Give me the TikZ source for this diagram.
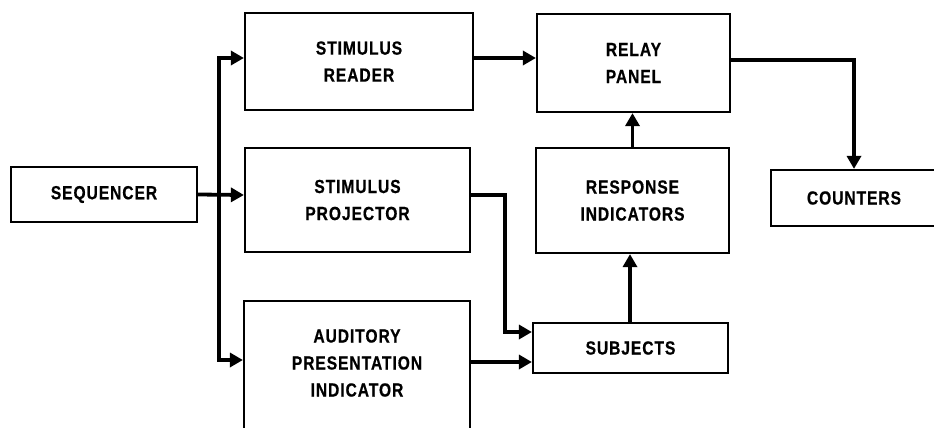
\documentclass[tikz,border=0pt]{standalone}
\usepackage{fontspec}
\setmainfont{Liberation Sans}[FakeStretch=0.82, LetterSpace=5, FakeBold=0.6]
\usetikzlibrary{arrows.meta}
\begin{document}
\begin{tikzpicture}[x=1pt,y=-1pt,
  blockbox/.style={draw, line width=2.2pt, inner sep=0pt, align=center,
    font=\fontsize{19}{27}\selectfont\bfseries},
  flow/.style={line width=3.8pt, -{Triangle[length=13pt,width=14pt]}},
  wire/.style={line width=3.8pt}]
\useasboundingbox (0,0) rectangle (934,428);
\clip (0,0) rectangle (934,428);

% blocks
\node[blockbox, minimum width=186pt, minimum height=55pt] (seq) at (104,194.5) {SEQUENCER};
\node[blockbox, minimum width=228pt, minimum height=97pt] (reader) at (359,61.5) {STIMULUS\\READER};
\node[blockbox, minimum width=225pt, minimum height=104pt] (proj) at (357.5,200) {STIMULUS\\PROJECTOR};
\node[blockbox, draw=none, minimum width=226pt, minimum height=124pt] (aud) at (357,363) {AUDITORY\\PRESENTATION\\INDICATOR};
\draw[line width=2.2pt] (244,432) -- (244,301) -- (470,301) -- (470,432);
\node[blockbox, minimum width=193pt, minimum height=98pt] (relay) at (633.5,63) {RELAY\\PANEL};
\node[blockbox, minimum width=193pt, minimum height=105pt] (resp) at (632.5,200.5) {RESPONSE\\INDICATORS};
\node[blockbox, minimum width=195pt, minimum height=50pt] (subj) at (630.5,348) {SUBJECTS};
\node[blockbox, minimum width=166pt, minimum height=56pt] (count) at (854,198) {COUNTERS};

% sequencer fan-out
\coordinate (j) at (219,195);
\draw[flow] (seq.east) -- (proj.west |- j);
\draw[wire] (j) -- (219,58);
\draw[wire] (j) -- (219,360);
\draw[flow] (217.1,58) -- ([yshift=3.5pt]reader.west);
\draw[flow] (217.1,360) -- ([yshift=3pt]aud.west);

% into subjects
\coordinate (k) at (505,195);
\draw[wire] ([yshift=5pt]proj.east) -- (k) -- (505,332);
\draw[flow] (503.1,332) -- ([yshift=16pt]subj.west);
\draw[flow] ([yshift=1pt]aud.east) -- ([yshift=-14pt]subj.west);

% responses up to the relay panel
\coordinate (s) at (630,323);
\draw[flow] (s) -- (s |- resp.south);
\coordinate (r) at (632.5,148);
\draw[flow] (r) -- (r |- relay.south);
\coordinate (m) at (473,58);
\draw[flow] (m) -- (m -| relay.west);

% relay panel to counters
\coordinate (c) at (854,60);
\draw[wire] ([yshift=3pt]relay.east) -- (855.9,60);
\draw[flow] (c) -- (count.north);
\end{tikzpicture}
\end{document}
